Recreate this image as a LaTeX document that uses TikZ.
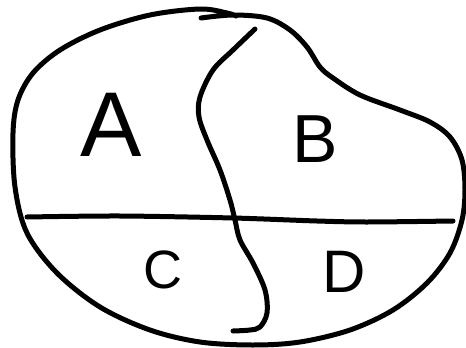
\documentclass[tikz,border=0pt]{standalone}
\usepackage{fontspec}
\setmainfont{Liberation Sans}
\begin{document}
\begin{tikzpicture}[x=1pt,y=-1pt,
  ink/.style={line width=5pt,line cap=round,line join=round,black},
  lbl/.style={inner sep=0pt,anchor=center}]
\useasboundingbox (0,0) rectangle (466,348);
% outer blob
\draw[ink] plot[smooth,tension=0.55] coordinates {
 (201,18) (233,15) (267,18) (290,30) (307,47) (320,67) (333,78) (360,95)
 (400,110) (430,122) (450,137) (462,160) (465,190) (462,220) (450,253)
 (427,283) (393,310) (350,330) (300,342) (253,345) (200,342) (150,330)
 (100,307) (57,273) (27,233) (15,187) (13,133) (18,100) (33,73) (60,50)
 (100,30) (150,15) (200,9) (227,13) (236,16)};
% horizontal divider
\draw[ink] plot[smooth,tension=0.5] coordinates {
 (27,217) (120,216) (233,218) (317,221) (367,222) (453,221)};
% vertical divider
\draw[ink] plot[smooth,tension=0.55] coordinates {
 (255,29) (233,50) (213,70) (200,97) (199,117) (207,140) (220,170)
 (230,200) (235,220) (240,240) (253,263) (265,290) (267,313) (260,327)
 (250,330) (233,331)};
% labels
\node[lbl] (A) at (111,125) {\fontsize{92}{92}\selectfont A};
\node[lbl] (B) at (315,139) {\fontsize{68}{68}\selectfont B};
\node[lbl] (C) at (163,270) {\fontsize{54}{54}\selectfont C};
\node[lbl] (D) at (344,272) {\fontsize{60}{60}\selectfont D};
\end{tikzpicture}
\end{document}
